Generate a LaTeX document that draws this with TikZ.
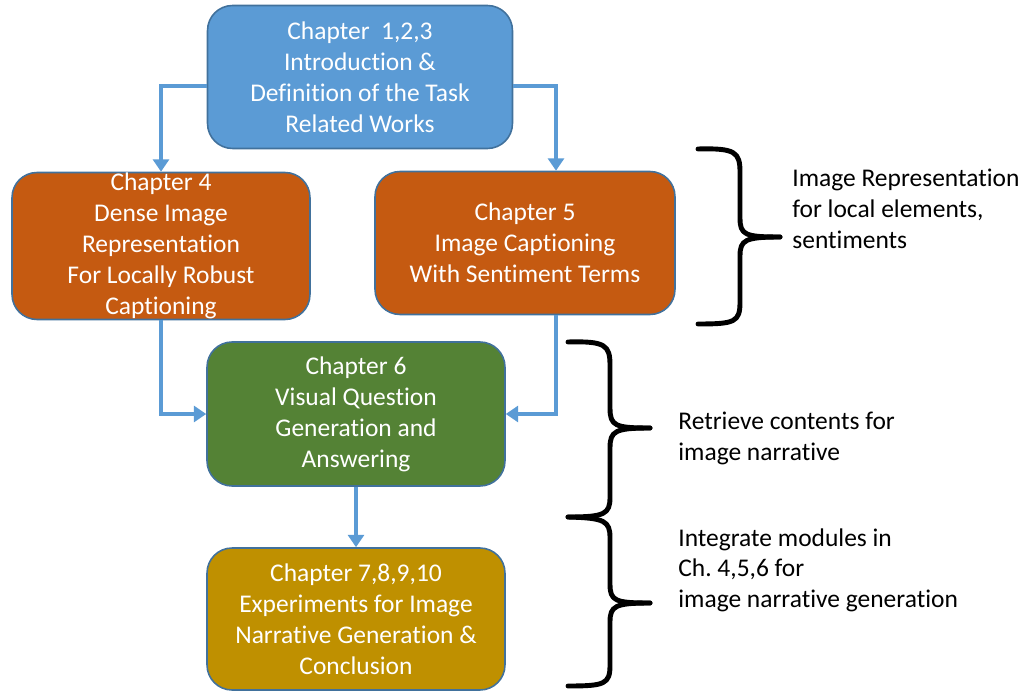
\documentclass[tikz,border=0pt]{standalone}
\usepackage{fontspec}
\setmainfont[RawFeature={-liga;-clig;-dlig;-calt}]{Carlito}
\usetikzlibrary{arrows.meta}
\definecolor{boxblue}{HTML}{5B9BD5}
\definecolor{boxline}{HTML}{41719C}
\definecolor{boxorange}{HTML}{C55A11}
\definecolor{boxgreen}{HTML}{548235}
\definecolor{boxgold}{HTML}{BF9000}
\frenchspacing
\begin{document}
\begin{tikzpicture}[
  x=0.02cm, y=-0.02cm,
  chapter/.style={rectangle, rounded corners=0.5cm, draw=boxline, line width=0.9pt, text=white, align=center, inner sep=0pt, font=\fontsize{14.5}{17.6}\selectfont},
  arrow/.style={-{Triangle[width=9pt,length=7pt]}, boxblue, line width=2.3pt},
  brace/.style={line width=2.8pt, line cap=round, line join=round},
  label/.style={anchor=north west, align=left, inner sep=0pt, font=\fontsize{14.5}{17.6}\selectfont}
]
\useasboundingbox (0,0) rectangle (1027,692);

% Chapter 1,2,3
\node[chapter, fill=boxblue, minimum width=6.1cm, minimum height=2.86cm] (ch1) at (360,77) {Chapter\ \ 1,2,3\\Introduction \&\\Definition of the Task\\Related Works};

% Chapter 4 and 5
\node[chapter, fill=boxorange, minimum width=5.96cm, minimum height=2.94cm] (ch4) at (161,246) {Chapter 4\\Dense Image\\Representation\\For Locally Robust\\Captioning};
\node[chapter, fill=boxorange, minimum width=6.0cm, minimum height=2.86cm] (ch5) at (525,243) {Chapter 5\\Image Captioning\\With Sentiment Terms};

% Chapter 6
\node[chapter, fill=boxgreen, minimum width=5.96cm, minimum height=2.88cm] (ch6) at (356,414) {Chapter 6\\Visual Question\\Generation and\\Answering};

% Chapter 7,8,9,10
\node[chapter, fill=boxgold, minimum width=5.96cm, minimum height=2.84cm] (ch7) at (356,619) {Chapter 7,8,9,10\\Experiments for Image\\Narrative Generation \&\\Conclusion};

\draw[arrow] ([yshift=-0.18cm]ch1.west) -| (ch4.north);
\draw[arrow] ([yshift=-0.18cm]ch1.east) -| ([xshift=0.62cm]ch5.north);
\draw[arrow] (ch4.south) |- (ch6.west);
\draw[arrow] ([xshift=0.62cm]ch5.south) |- (ch6.east);
\draw[arrow] (ch6.south) -- (ch7.north);

% braces
\draw[brace] (698,149) .. controls (735,148) and (740,152) .. (740,172) -- (740,218) .. controls (740,235) and (745,237) .. (780,237);
\draw[brace] (780,237) .. controls (745,237) and (740,240) .. (740,256) -- (740,302) .. controls (740,322) and (735,324) .. (698,324);

\draw[brace] (568,342) .. controls (605,341) and (610,345) .. (610,365) -- (610,408) .. controls (610,426) and (615,428) .. (650,428);
\draw[brace] (650,428) .. controls (615,428) and (610,431) .. (610,448) -- (610,497) .. controls (610,514) and (605,517) .. (568,517);
\draw[brace] (568,517) .. controls (605,518) and (610,521) .. (610,538) -- (610,584) .. controls (610,601) and (615,603) .. (650,603);
\draw[brace] (650,603) .. controls (615,603) and (610,606) .. (610,622) -- (610,665) .. controls (610,684) and (605,686) .. (568,686);

\node[label] (lab1) at (792,169) {Image Representation\\for local elements,\\sentiments};
\node[label] (lab2) at (678,412) {Retrieve contents for\\image narrative};
\node[label] (lab3) at (678,528) {Integrate modules in\\Ch. 4,5,6 for\\image narrative generation};
\end{tikzpicture}
\end{document}
